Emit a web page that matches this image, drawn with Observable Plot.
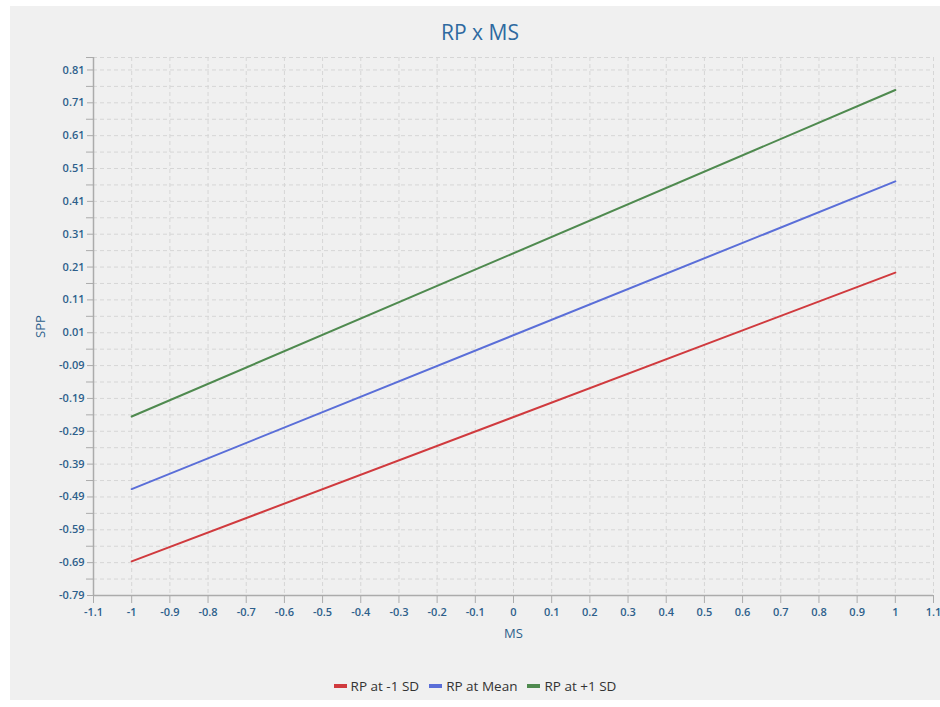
<!DOCTYPE html>
<html>
<head>
<meta charset="utf-8">
<script src="https://cdn.jsdelivr.net/npm/d3@7"></script>
<script src="https://cdn.jsdelivr.net/npm/@observablehq/plot@0.6"></script>
<style>
  html, body { margin: 0; padding: 0; background: #ffffff; }
  #panel { position: absolute; left: 10px; top: 6px; width: 930px; height: 694px; background: #f0f0f0; font-family: "Open Sans", "Noto Sans", sans-serif; }
  #title { height: 44px; line-height: 52px; text-align: center; font-size: 21px; color: #2e6aa0; padding-left: 10px; }
  #legend { position: absolute; left: 0px; top: 671px; width: 930px; text-align: center; font-size: 13.5px; color: #333; }
  #legend span.item { margin: 0 5px; }
  #legend span.sw { display: inline-block; width: 13px; height: 4px; vertical-align: middle; margin-right: 4px; position: relative; top: -1px; }
</style>
</head>
<body>
<div id="panel">
  <div id="title">RP x MS</div>
  <div id="chart"></div>
  <div id="legend"></div>
</div>
<script>
const seriesNames = ["RP at -1 SD", "RP at Mean", "RP at +1 SD"];
const seriesColors = ["#d03a3e", "#5a6ed8", "#4f8a4f"];
const msValues = [-1, 1];
const rpLow = [-0.686, 0.193];
const rpMean = [-0.466, 0.471];
const rpHigh = [-0.245, 0.749];
const yTickLabels = [-0.79, -0.69, -0.59, -0.49, -0.39, -0.29, -0.19, -0.09, 0.01, 0.11, 0.21, 0.31, 0.41, 0.51, 0.61, 0.71, 0.81];
const yMinorTicks = [-0.74, -0.64, -0.54, -0.44, -0.34, -0.24, -0.14, -0.04, 0.06, 0.16, 0.26, 0.36, 0.46, 0.56, 0.66, 0.76, 0.848];
const xTickLabels = [-1.1, -1, -0.9, -0.8, -0.7, -0.6, -0.5, -0.4, -0.3, -0.2, -0.1, 0, 0.1, 0.2, 0.3, 0.4, 0.5, 0.6, 0.7, 0.8, 0.9, 1, 1.1];
const yDomain = [-0.79, 0.848];
const xDomain = [-1.1, 1.1];

const allSeries = [rpLow, rpMean, rpHigh];
const rows = [];
allSeries.forEach((vals, i) => vals.forEach((v, j) => rows.push({ms: msValues[j], spp: v, series: seriesNames[i]})));

const labelColor = "#2d5f8b";
const gridColor = "#d6d6d6";
const axisColor = "#ababab";
const fmtY = d => d.toFixed(2).replace("\u2212", "-");
const fmtX = d => String(Math.round(d * 10) / 10);

const chart = Plot.plot({
  width: 930,
  height: 600,
  marginTop: 7,
  marginBottom: 55,
  marginLeft: 83,
  marginRight: 7,
  style: {background: "transparent", fontFamily: "'Open Sans', 'Noto Sans', sans-serif"},
  x: {domain: xDomain},
  y: {domain: yDomain},
  color: {domain: seriesNames, range: seriesColors},
  marks: [
    Plot.gridY([...yTickLabels, ...yMinorTicks], {stroke: gridColor, strokeOpacity: 1, strokeDasharray: "4,3"}),
    Plot.gridX(xTickLabels.filter(d => d > -1.1), {stroke: gridColor, strokeOpacity: 1, strokeDasharray: "4,3"}),
    Plot.axisY(yMinorTicks, {tickSize: 7, stroke: axisColor, tickFormat: () => "", label: null}),
    Plot.axisY(yTickLabels, {tickSize: 6, stroke: axisColor, tickPadding: 3, tickFormat: fmtY, fill: labelColor, fontSize: 11, fontWeight: 600,
      label: "SPP", labelAnchor: "center", labelOffset: 58, labelArrow: "none"}),
    Plot.axisX(xTickLabels, {tickSize: 8, stroke: axisColor, tickPadding: 5, tickFormat: fmtX, fill: labelColor, fontSize: 11, fontWeight: 600,
      label: "MS", labelAnchor: "center", labelOffset: 42, labelArrow: "none"}),
    Plot.ruleX([xDomain[0]], {stroke: axisColor, strokeWidth: 1.5}),
    Plot.ruleY([yDomain[0]], {stroke: axisColor, strokeWidth: 1.5}),
    Plot.line(rows, {x: "ms", y: "spp", z: "series", stroke: "series", strokeWidth: 2})
  ]
});
document.getElementById("chart").appendChild(chart);
d3.select(chart).selectAll("[aria-label='y-axis label'] text, [aria-label='x-axis label'] text")
  .attr("fill", labelColor).style("font-size", "13px").style("font-weight", "400");

const legend = document.getElementById("legend");
seriesNames.forEach((name, i) => {
  const item = document.createElement("span");
  item.className = "item";
  const sw = document.createElement("span");
  sw.className = "sw";
  sw.style.background = seriesColors[i];
  item.appendChild(sw);
  item.appendChild(document.createTextNode(name));
  legend.appendChild(item);
});
</script>
</body>
</html>
